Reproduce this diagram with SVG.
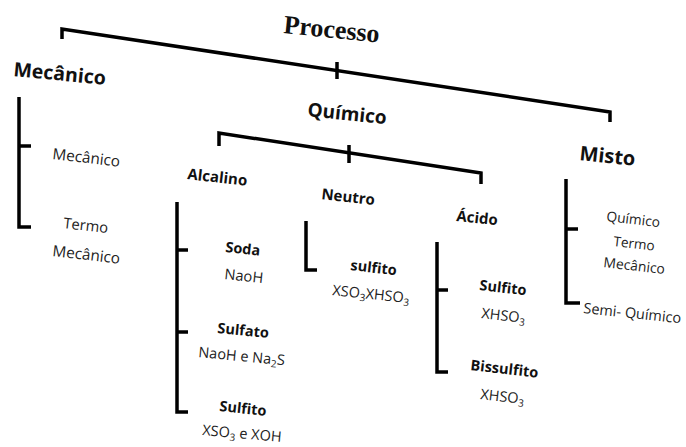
<svg xmlns="http://www.w3.org/2000/svg" width="686" height="447" viewBox="0 0 686 447">
<style>
.ln{fill:none;stroke:#000;stroke-width:3.5;stroke-linejoin:miter;stroke-linecap:butt}
.t{font-family:"Open Sans","Noto Sans","Liberation Sans",sans-serif;fill:#222}
.b{font-family:"Open Sans","Noto Sans","Liberation Sans",sans-serif;font-weight:bold;fill:#111}
.s{font-family:"Liberation Serif","DejaVu Serif",serif;font-weight:bold;fill:#111}
</style>
<rect width="686" height="447" fill="#fff"/>
<g id="connectors">
<path class="ln" d="M62,39 V29 L610,112 V122"/>
<path class="ln" d="M337,62 V79"/>
<path class="ln" d="M219,146 V133 L481,173 V184"/>
<path class="ln" d="M349,145 V163"/>
<path class="ln" d="M19,97 V227 H31 M19,146 H31"/>
<path class="ln" d="M177,202 V412 H188 M177,250 H188 M177,332 H188"/>
<path class="ln" d="M306,221 V270 H317"/>
<path class="ln" d="M437,242 V372 H448 M437,290 H448"/>
<path class="ln" d="M566,179 V303 H580 M566,229 H578"/>
</g>
<g id="processo"><text class="s" x="283" y="33" font-size="26" transform="rotate(5.7 283 33)">Processo</text></g>
<g id="mecanico"><text class="b" x="13" y="76" font-size="19.5" transform="rotate(5.5 13 76)">Mecânico</text></g>
<g id="mec-mecanico"><text class="t" x="52" y="159" font-size="15.3" transform="rotate(6.5 52 159)">Mecânico</text></g>
<g id="mec-termo">
<text class="t" x="63" y="228" font-size="14.7" transform="rotate(6.5 63 228)">Termo</text>
<text class="t" x="52" y="256" font-size="15.3" transform="rotate(6.5 52 256)">Mecânico</text>
</g>
<g id="quimico"><text class="b" x="307" y="116" font-size="19" transform="rotate(6 307 116)">Químico</text></g>
<g id="alcalino"><text class="b" x="187" y="179" font-size="15" transform="rotate(6.5 187 179)">Alcalino</text></g>
<g id="soda">
<text class="b" x="225" y="252" font-size="14.5" transform="rotate(6 225 252)">Soda</text>
<text class="t" x="224" y="279" font-size="14.7" transform="rotate(6 224 279)">NaoH</text>
</g>
<g id="sulfato">
<text class="b" x="217" y="333" font-size="14.5" transform="rotate(5.5 217 333)">Sulfato</text>
<text class="t" x="198" y="357" font-size="14.5" transform="rotate(5.5 198 357)">NaoH e Na<tspan font-size="10" dy="3">2</tspan><tspan dy="-3">S</tspan></text>
</g>
<g id="sulfito-alc">
<text class="b" x="219" y="411" font-size="14.5" transform="rotate(6 219 411)">Sulfito</text>
<text class="t" x="202" y="435" font-size="14.5" transform="rotate(5 202 435)">XSO<tspan font-size="10" dy="3">3</tspan><tspan dy="-3"> e XOH</tspan></text>
</g>
<g id="neutro"><text class="b" x="321" y="199" font-size="15" transform="rotate(6.5 321 199)">Neutro</text></g>
<g id="sulfito-neu">
<text class="b" x="350" y="270" font-size="14.5" transform="rotate(6.5 350 270)">sulfito</text>
<text class="t" x="332" y="295" font-size="14.5" transform="rotate(6 332 295)">XSO<tspan font-size="10" dy="3">3</tspan><tspan dy="-3">XHSO</tspan><tspan font-size="10" dy="3">3</tspan></text>
</g>
<g id="acido"><text class="b" x="456" y="221" font-size="15" transform="rotate(6 456 221)">Ácido</text></g>
<g id="sulfito-aci">
<text class="b" x="479" y="290" font-size="14.5" transform="rotate(6.5 479 290)">Sulfito</text>
<text class="t" x="481" y="318" font-size="14.5" transform="rotate(6.5 481 318)">XHSO<tspan font-size="10" dy="3">3</tspan></text>
</g>
<g id="bissulfito">
<text class="b" x="470" y="370" font-size="14.6" transform="rotate(6.5 470 370)">Bissulfito</text>
<text class="t" x="480" y="399" font-size="14.5" transform="rotate(6.5 480 399)">XHSO<tspan font-size="10" dy="3">3</tspan></text>
</g>
<g id="misto"><text class="b" x="579" y="160" font-size="20" transform="rotate(6 579 160)">Misto</text></g>
<g id="misto-quimico">
<text class="t" x="606" y="221" font-size="13.8" transform="rotate(6.5 606 221)">Químico</text>
<text class="t" x="613" y="246" font-size="13.6" transform="rotate(6.5 613 246)">Termo</text>
<text class="t" x="603" y="267" font-size="13.9" transform="rotate(6.5 603 267)">Mecânico</text>
</g>
<g id="semi-quimico"><text class="t" x="583" y="313" font-size="14.5" transform="rotate(6 583 313)">Semi- Químico</text></g>
</svg>
